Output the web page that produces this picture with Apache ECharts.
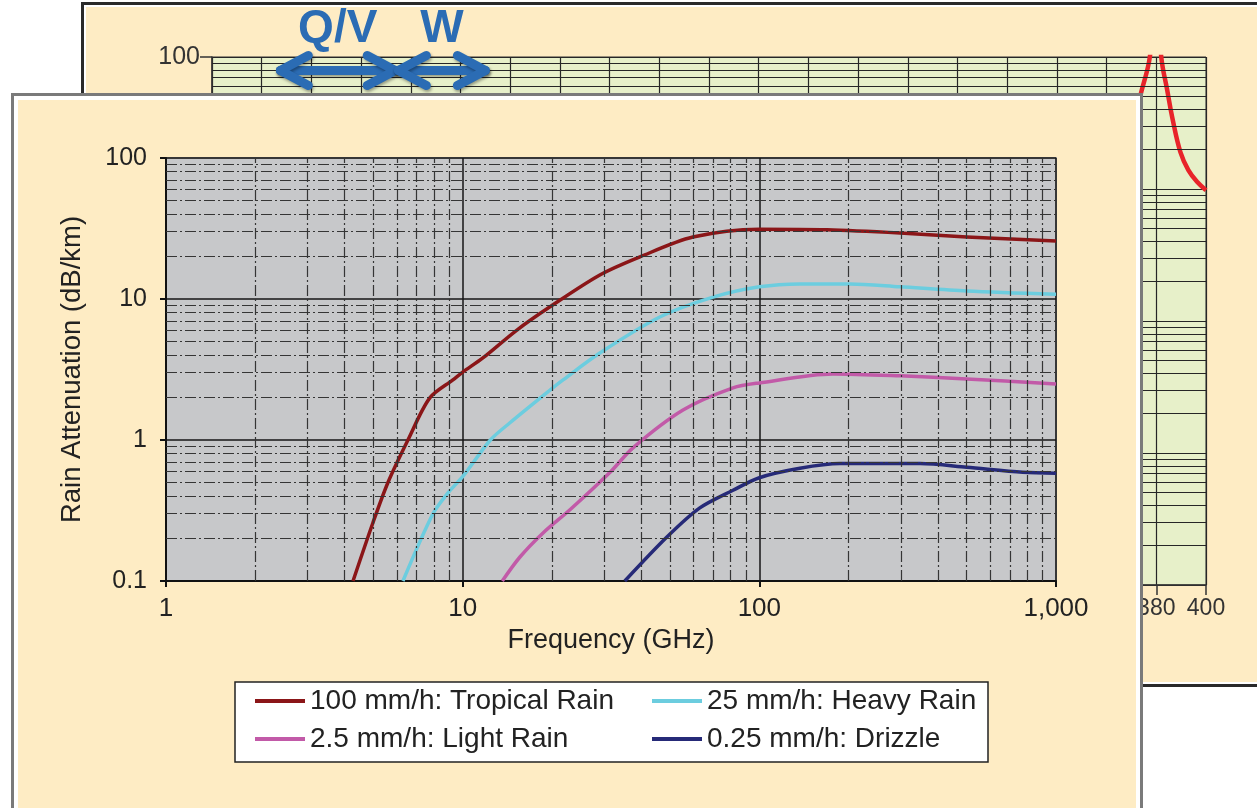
<!DOCTYPE html>
<html>
<head>
<meta charset="utf-8">
<title>Rain Attenuation vs Frequency</title>
<script src="https://cdn.jsdelivr.net/npm/echarts@6/dist/echarts.min.js"></script>
<style>
  html, body { margin: 0; padding: 0; width: 1257px; height: 808px; overflow: hidden; background: #fff; }
  #backPanel { position: absolute; left: 81px; top: 2px; width: 1200px; height: 685px; box-sizing: border-box;
               border: 3px solid #2a2a2a; box-shadow: inset 0 0 0 2px #fff; background: #feecc4; z-index: 1; }
  #backChart, #frontChart { position: absolute; left: 0; top: 0; width: 1257px; height: 808px; }
  #backChart { z-index: 2; }
  #frontPanel { position: absolute; left: 11px; top: 93px; width: 1132px; height: 760px; box-sizing: border-box;
                border: 3px solid #7a7a7a; box-shadow: inset 0 0 0 4px #fff; background: #feecc4; z-index: 3; }
  #frontChart { z-index: 4; }
</style>
</head>
<body>
<div id="backPanel"></div>
<div id="backChart"></div>
<div id="frontPanel"></div>
<div id="frontChart"></div>
<script>
// rain attenuation curves (frequency in GHz, attenuation in dB/km)
var seriesNames = ['100 mm/h: Tropical Rain', '25 mm/h: Heavy Rain', '2.5 mm/h: Light Rain', '0.25 mm/h: Drizzle'];
var seriesColors = ['#8b1618', '#6ccddf', '#c25aa8', '#262a78'];

var tropicalFreq = [4.27, 4.98, 5.6, 6.54, 7.75, 9.27, 10, 11.7, 15.2, 19.7, 29, 39.6, 59.7, 100, 169, 298, 500, 1000];
var tropicalAtt  = [0.1, 0.258, 0.5, 1.0, 1.99, 2.67, 3.03, 3.82, 6.0, 8.8, 14.8, 19.9, 27.5, 31.3, 31, 29.4, 27.5, 25.8];

var heavyFreq = [6.29, 7.94, 8.91, 10, 12.4, 14.4, 19.7, 21.8, 29, 46.2, 69.8, 100, 137, 202, 298, 500, 1000];
var heavyAtt  = [0.1, 0.30, 0.42, 0.55, 1.0, 1.32, 2.26, 2.67, 4.14, 7.45, 10.3, 12.2, 12.8, 12.8, 12.2, 11.4, 10.8];

var lightFreq = [13.6, 15.6, 18.7, 23, 31.4, 37.5, 55.3, 81.5, 100, 177, 298, 500, 1000];
var lightAtt  = [0.1, 0.148, 0.22, 0.32, 0.59, 0.88, 1.63, 2.34, 2.54, 2.94, 2.85, 2.71, 2.50];

var drizzleFreq = [35.2, 48.8, 63, 81.5, 100, 137, 187, 348, 500, 773, 1000];
var drizzleAtt  = [0.1, 0.205, 0.33, 0.44, 0.54, 0.63, 0.68, 0.68, 0.64, 0.59, 0.58];

// back chart: atmospheric absorption near the 380 GHz water line
var absorbFreq = [370, 373.6, 377.4, 378.8, 380, 381, 382, 384.4, 386.4, 389.7, 392.9, 396.5, 400];
var absorbAtt  = [25, 51, 100, 250, 600, 250, 100, 56, 35, 19, 13.9, 11.3, 9.8];

// frequency bands marked above the back chart
var bandNames = ['Q/V', 'W'];
var bandStart = [27.5, 75];
var bandEnd   = [73.7, 110];
var bandArrowLevel = 79;

var xTickLabels = {1: '1', 10: '10', 100: '100', 1000: '1,000'};

var font = "'Liberation Sans', Arial, Helvetica, sans-serif";
var minorSteps = [2, 3, 4, 5, 6, 7, 8, 9];

function pairs(f, a) {
  return f.map(function (v, i) { return [v, a[i]]; });
}
function minorLines(decades, key) {
  var out = [];
  decades.forEach(function (d) {
    minorSteps.forEach(function (s) {
      var o = {};
      o[key] = +(d * s).toPrecision(3);
      out.push(o);
    });
  });
  return out;
}

// ---------------- back chart ----------------
var backChart = echarts.init(document.getElementById('backChart'));
backChart.setOption({
  animation: false,
  textStyle: { fontFamily: font },
  grid: { left: 212, top: 57, width: 994, height: 528, show: true,
          backgroundColor: '#e7f0c9', borderColor: '#333', borderWidth: 1 },
  xAxis: {
    type: 'value', min: 0, max: 400, interval: 20,
    axisLine: { lineStyle: { color: '#333', width: 1.5 } },
    axisTick: { length: 10, lineStyle: { color: '#333', width: 1.5 } },
    axisLabel: { fontSize: 23, color: '#333', margin: 12 },
    splitLine: { lineStyle: { color: '#262626', width: 1.2 } }
  },
  yAxis: {
    type: 'log', logBase: 10, min: 0.01, max: 100,
    axisLine: { show: true, lineStyle: { color: '#333', width: 1.5 } },
    axisTick: { show: true, length: 12, lineStyle: { color: '#333', width: 1.5 } },
    axisLabel: { fontSize: 25, color: '#333', margin: 12 },
    splitLine: { lineStyle: { color: '#262626', width: 1.2 } }
  },
  series: [
    {
      type: 'line', data: [], z: 1, silent: true,
      markLine: {
        silent: true, symbol: 'none', label: { show: false },
        lineStyle: { color: '#262626', width: 1.1, type: 'solid' },
        data: minorLines([0.01, 0.1, 1, 10], 'yAxis')
      }
    },
    {
      type: 'line', data: pairs(absorbFreq, absorbAtt), z: 3,
      showSymbol: false, smooth: 0.4, clip: true,
      lineStyle: { color: '#e8242a', width: 4.5 }
    }
  ]
});

// Q/V and W band arrows
var bandGraphics = [];
var arrowColor = '#2b6cb4';
bandNames.forEach(function (name, i) {
  var p0 = backChart.convertToPixel({ gridIndex: 0 }, [bandStart[i], bandArrowLevel]);
  var p1 = backChart.convertToPixel({ gridIndex: 0 }, [bandEnd[i], bandArrowLevel]);
  var pm = backChart.convertToPixel({ gridIndex: 0 }, [(bandStart[i] + bandEnd[i]) / 2, bandArrowLevel]);
  var st = { stroke: arrowColor, lineWidth: 9, lineCap: 'round', lineJoin: 'round', fill: null,
             shadowBlur: 3, shadowColor: 'rgba(0,0,0,0.35)', shadowOffsetX: 1, shadowOffsetY: 2 };
  bandGraphics.push({ type: 'line', shape: { x1: p0[0], y1: p0[1], x2: p1[0], y2: p1[1] }, style: st, z: 10 });
  bandGraphics.push({ type: 'polyline', shape: { points: [[p0[0] + 28, p0[1] - 15], [p0[0], p0[1]], [p0[0] + 28, p0[1] + 15]] }, style: st, z: 10 });
  bandGraphics.push({ type: 'polyline', shape: { points: [[p1[0] - 28, p1[1] - 15], [p1[0], p1[1]], [p1[0] - 28, p1[1] + 15]] }, style: st, z: 10 });
  bandGraphics.push({
    type: 'text', x: pm[0], y: 29, z: 10,
    style: { text: name, fill: arrowColor, font: 'bold 46px ' + font, textAlign: 'center', textVerticalAlign: 'middle',
             shadowBlur: 3, shadowColor: 'rgba(0,0,0,0.3)', shadowOffsetX: 1, shadowOffsetY: 2 }
  });
});
backChart.setOption({ graphic: bandGraphics });

// ---------------- front chart ----------------
var frontChart = echarts.init(document.getElementById('frontChart'));
var curveData = [
  pairs(tropicalFreq, tropicalAtt),
  pairs(heavyFreq, heavyAtt),
  pairs(lightFreq, lightAtt),
  pairs(drizzleFreq, drizzleAtt)
];
var legendPos = [[255, 687], [652, 687], [255, 725], [652, 725]];

var frontSeries = [{
  type: 'line', data: [], z: 1, silent: true,
  markLine: {
    silent: true, symbol: 'none', label: { show: false },
    lineStyle: { color: '#353535', width: 1.2, type: [11, 3, 2, 3] },
    data: minorLines([1, 10, 100], 'xAxis').concat(minorLines([0.1, 1, 10], 'yAxis'))
  }
}];
seriesNames.forEach(function (n, i) {
  frontSeries.push({
    name: n, type: 'line', data: curveData[i], z: 3,
    showSymbol: false, smooth: 0.3,
    color: seriesColors[i],
    lineStyle: { color: seriesColors[i], width: 3.5, join: 'round' }
  });
});

frontChart.setOption({
  animation: false,
  textStyle: { fontFamily: font },
  grid: { left: 166, top: 158, width: 890, height: 423, show: true,
          backgroundColor: '#c7c8ca', borderColor: '#9a9a9a', borderWidth: 2 },
  xAxis: {
    type: 'log', logBase: 10, min: 1, max: 1000,
    name: 'Frequency (GHz)', nameLocation: 'middle', nameGap: 43,
    nameTextStyle: { fontSize: 27, color: '#222' },
    axisLine: { lineStyle: { color: '#111', width: 2 } },
    axisTick: { show: true, length: 6, lineStyle: { color: '#111', width: 2 } },
    axisLabel: { fontSize: 26, color: '#222', margin: 15,
                 formatter: function (v) { return xTickLabels[Math.round(v)] || String(v); } },
    splitLine: { show: true, lineStyle: { color: '#161616', width: 1.5 } }
  },
  yAxis: {
    type: 'log', logBase: 10, min: 0.1, max: 100,
    name: 'Rain Attenuation (dB/km)', nameLocation: 'middle', nameGap: 80,
    nameTextStyle: { fontSize: 27.5, color: '#222' },
    axisLine: { show: true, lineStyle: { color: '#111', width: 2 } },
    axisTick: { show: true, length: 6, lineStyle: { color: '#111', width: 2 } },
    axisLabel: { fontSize: 25, color: '#222', margin: 19,
                 formatter: function (v) { return String(+v.toPrecision(3)); } },
    splitLine: { show: true, lineStyle: { color: '#161616', width: 1.5 } }
  },
  legend: seriesNames.map(function (n, i) {
    return {
      data: [n], left: legendPos[i][0], top: legendPos[i][1], padding: 0,
      icon: 'rect', itemWidth: 50, itemHeight: 4, selectedMode: false,
      textStyle: { fontSize: 28, color: '#222', fontFamily: font }
    };
  }),
  graphic: [{
    type: 'rect', z: 0,
    shape: { x: 235, y: 682, width: 753, height: 80 },
    style: { fill: '#fff', stroke: '#222', lineWidth: 1.5 }
  }],
  series: frontSeries
});
</script>
</body>
</html>
